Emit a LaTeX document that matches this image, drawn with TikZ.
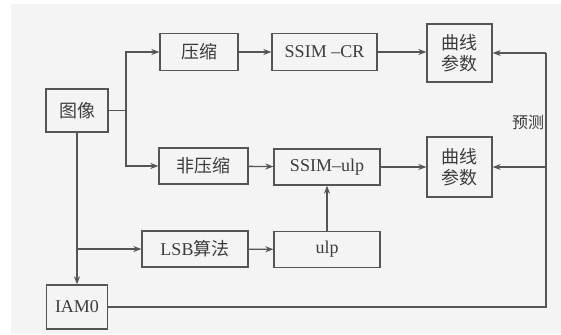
\documentclass[tikz,border=0pt]{standalone}
\usepackage{fontspec}
\setmainfont{Liberation Serif}
\newfontfamily\cjk{Noto Sans CJK SC}
\usetikzlibrary{arrows.meta}
\definecolor{bg}{HTML}{F4F4F4}
\definecolor{ln}{HTML}{555555}
\definecolor{tx}{HTML}{3C3C3C}
\begin{document}
\begin{tikzpicture}[x=1pt,y=-1pt,
  box/.style={draw=ln,line width=1.3pt,fill=bg,text=tx,inner sep=0pt,align=center,
    font=\fontsize{18}{21}\selectfont},
  link/.style={draw=ln,line width=1.3pt},
  arr/.style={link,-{Stealth[length=8pt,width=6pt]}}]
\useasboundingbox (0,0) rectangle (561,334);
\fill[white] (0,0) rectangle (561,334);
\fill[bg] (11,4) rectangle (561,334);
\node[box,minimum width=62pt,minimum height=43pt] (img) at (77,110.5) {\cjk 图像};
\node[box,minimum width=78pt,minimum height=37pt] (ys) at (199,52) {\cjk 压缩};
\node[box,minimum width=105pt,minimum height=37pt] (cr) at (324.5,52) {SSIM --CR};
\node[box,minimum width=65pt,minimum height=58pt] (c1) at (459.5,53) {\cjk 曲线\\\cjk 参数};
\node[box,minimum width=89pt,minimum height=36pt] (fys) at (203.5,166) {\cjk 非压缩};
\node[box,minimum width=106pt,minimum height=36pt] (su) at (327,167) {SSIM--ulp};
\node[box,minimum width=65pt,minimum height=60pt] (c2) at (459.5,167) {\cjk 曲线\\\cjk 参数};
\node[box,minimum width=106pt,minimum height=36pt] (lsb) at (195,249) {LSB{\cjk 算法}};
\node[box,minimum width=106pt,minimum height=36pt] (ulp) at (327,249.5) {ulp};
\node[box,minimum width=61pt,minimum height=44pt] (iam) at (77,307) {IAM0};
\node[text=tx,font=\cjk\fontsize{16}{18}\selectfont,inner sep=0pt] (yc) at (528,122) {预测};
\coordinate (b1) at (126,110.5);
\coordinate (b2) at (77,249);
\coordinate (rt) at (546,53);
\coordinate (rm) at (546,167);
\draw[link] (img.east) -- (b1);
\draw[arr] (b1) |- (ys.west);
\draw[arr] (b1) |- (fys.west);
\draw[arr] (img.south) -- (iam.north);
\draw[arr] (b2) -- (lsb.west);
\draw[arr] (ys) -- (cr);
\draw[arr] (cr.east) -- (c1.west |- cr.east);
\draw[arr] (fys) -- (su);
\draw[arr] (su) -- (c2);
\draw[arr] (lsb) -- (ulp);
\draw[arr] (ulp) -- (su);
\draw[link] (iam.east) -| (rt);
\draw[arr] (rt) -- (c1.east);
\draw[arr] (rm) -- (c2.east);
\end{tikzpicture}
\end{document}
